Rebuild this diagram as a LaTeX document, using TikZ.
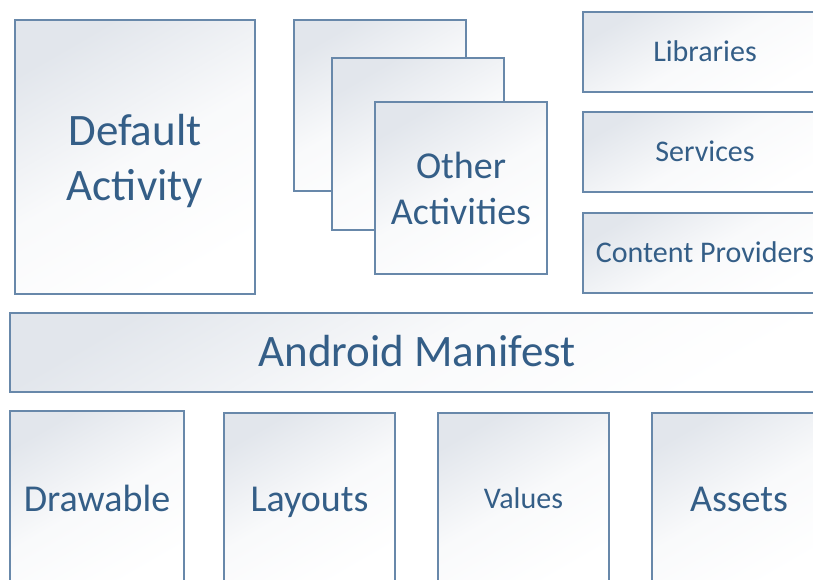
\documentclass[tikz,border=0pt]{standalone}
\usepackage{fontspec}
\setmainfont{Carlito}
\definecolor{txt}{RGB}{52,94,135}
\definecolor{edge}{RGB}{104,136,170}
\definecolor{grad}{RGB}{226,230,236}
\tikzset{
  box/.style={draw=edge, line width=1.3pt, rectangle, inner sep=0pt,
    top color=grad, bottom color=white, middle color=grad!22!white, shading angle=30,
    text=txt, align=center},
  fbig/.style={font=\fontsize{45}{55}\selectfont},
  fmid/.style={font=\fontsize{38}{46}\selectfont},
  fsmall/.style={font=\fontsize{30}{36}\selectfont},
  onebig/.style={fbig, text height=36.9pt, text depth=8.1pt},
  onemid/.style={fmid, text height=31.2pt, text depth=6.8pt},
  onesmall/.style={fsmall, text height=24.6pt, text depth=5.4pt},
}
\begin{document}
\begin{tikzpicture}[x=1pt,y=-1pt]
\useasboundingbox (0,0) rectangle (813,579);
\clip (0,0) rectangle (813,579);
\fill[white] (0,0) rectangle (813,579);
% Default activity
\node[box, fbig, minimum width=240pt, minimum height=274pt] (def) at (135,157) {\rule{0pt}{40pt}Default\\Activity};
% Other activities stack
\node[box, minimum width=172pt, minimum height=171pt] (oa1) at (380,105.5) {};
\node[box, minimum width=172pt, minimum height=172pt] (oa2) at (418,144) {};
\node[box, fmid, minimum width=172pt, minimum height=172pt] (oa3) at (461,188) {Other\\Activities};
% Right column
\node[box, onesmall, minimum width=244pt, minimum height=80pt] (lib) at (705,52) {Libraries};
\node[box, onesmall, minimum width=244pt, minimum height=80pt] (srv) at (705,152) {Services};
\node[box, onesmall, minimum width=244pt, minimum height=80pt] (cp) at (705,253) {Content Providers};
% Manifest
\node[box, onebig, minimum width=814pt, minimum height=79pt] (man) at (417,352.5) {Android Manifest};
% Bottom row
\node[box, onemid, minimum width=174pt, minimum height=176pt] (draw) at (97,499) {Drawable};
\node[box, onemid, minimum width=171pt, minimum height=172pt] (lay) at (309.5,499) {Layouts};
\node[box, onesmall, minimum width=171pt, minimum height=172pt] (val) at (523.5,499) {Values};
\node[box, onemid, minimum width=174pt, minimum height=172pt] (ast) at (739,499) {Assets};
\end{tikzpicture}
\end{document}
